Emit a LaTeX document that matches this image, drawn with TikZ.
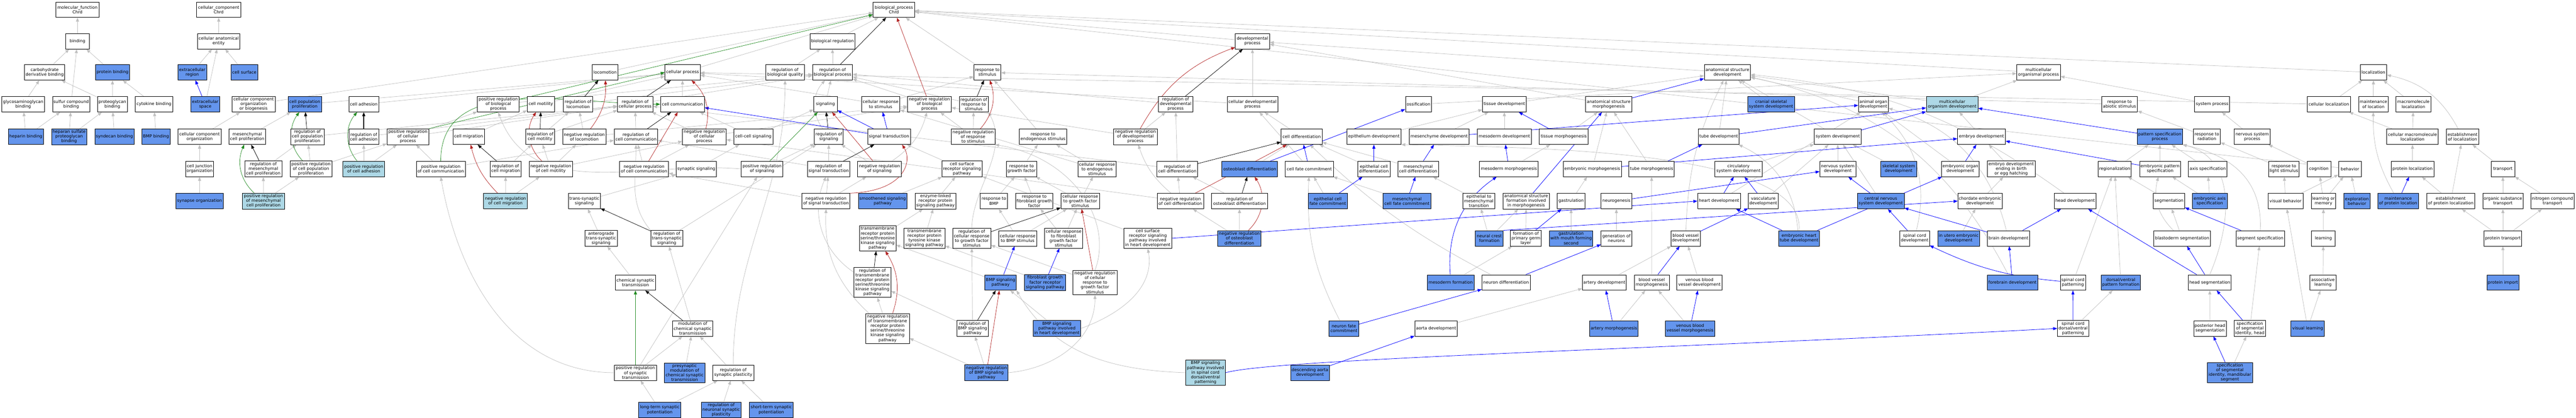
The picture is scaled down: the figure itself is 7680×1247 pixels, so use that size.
\documentclass[tikz,border=0pt]{standalone}
\usepackage{fontspec}
\setmainfont{DejaVu Sans}
\usetikzlibrary{arrows.meta}
\pgfdeclarelayer{back}
\pgfdeclarelayer{edges}
\pgfsetlayers{back,edges,main}
\definecolor{cblue}{RGB}{100,149,237}
\definecolor{lblue}{RGB}{173,216,230}
\definecolor{egray}{RGB}{192,192,192}
\definecolor{fgreen}{RGB}{34,139,34}
\definecolor{fred}{RGB}{178,34,34}
\tikzset{
 nd/.style={draw=black, line width=1.1pt, fill=white, rectangle, align=center, inner xsep=2pt, inner ysep=3.5pt, minimum height=46pt, font=\fontsize{12.5}{14}\selectfont},
 bl/.style={fill=cblue}, lb/.style={fill=lblue},
 tip/.style={-{Triangle[length=12pt,width=9pt]}},
 ge/.style={draw=egray, line width=1.1pt, tip},
 ke/.style={draw=black, line width=1.1pt, tip},
 gre/.style={draw=fgreen, line width=1.1pt, tip},
 rde/.style={draw=fred, line width=1.1pt, tip},
 ble/.style={draw=blue, line width=1.2pt, tip}
}
\newcommand\GN[5][]{\node[nd,#1,minimum width=#2pt] (#3) at (#4) {#5};}
\begin{document}
\begin{tikzpicture}[x=1pt,y=-1pt]
\begin{pgfonlayer}{back}
\path[use as bounding box, fill=white] (0,0) rectangle (7680,1247);
\end{pgfonlayer}
% R0
\GN{128}{mf}{231,29}{molecular\_function\\Chrd}
\GN{131}{cc}{652,29}{cellular\_component\\Chrd}
\GN{124}{bp}{2665,29}{biological\_process\\Chrd}
% R1
\GN{70}{bind}{231,123}{binding}
\GN{127}{cae}{652,123}{cellular anatomical\\entity}
\GN{135}{breg}{2482,123}{biological regulation}
\GN{102}{devp}{3734,123}{developmental\\process}
% R2
\GN{120}{carb}{133,216}{carbohydrate\\derivative binding}
\GN[bl]{101}{protb}{335.5,216}{protein binding}
\GN[bl]{86}{exreg}{573,216}{extracellular\\region}
\GN[bl]{79}{csurf}{728.5,216}{cell surface}
\GN{76}{loco}{1804,216}{locomotion}
\GN{105}{cellp}{2035,216}{cellular process}
\GN{115}{rbq}{2340.5,216}{regulation of\\biological quality}
\GN{119}{rbp}{2482,216}{regulation of\\biological process}
\GN{81}{rstim}{2943.5,216}{response to\\stimulus}
\GN{138}{asd}{5150,216}{anatomical structure\\development}
\GN{130}{mop}{6077.5,216}{multicellular\\organismal process}
\GN{79}{loc}{7076,216}{localization}
% R3
\GN{128}{gag}{69,311}{glycosaminoglycan\\binding}
\GN{111}{sulf}{212,311}{sulfur compound\\binding}
\GN{89}{pgb}{335,311}{proteoglycan\\binding}
\GN{111}{cytb}{459,311}{cytokine binding}
\GN[bl]{86}{exsp}{612,311}{extracellular\\space}
\GN{128}{ccob}{756,311}{cellular component\\organization\\or biogenesis}
\GN[bl]{99.5}{cpp}{908.5,311}{cell population\\proliferation}
\GN{89}{cadh}{1084.5,311}{cell adhesion}
\GN{125}{prbp}{1485.5,311}{positive regulation\\of biological\\process}
\GN{81}{cmot}{1612.5,311}{cell motility}
\GN{87}{rloc}{1723.5,311}{regulation of\\locomotion}
\GN{105}{rcp}{1893.5,311}{regulation of\\cellular process}
\GN{131}{ccomm}{2034.5,311}{cell communication}
\GN{70}{sig}{2461,311}{signaling}
\GN{115}{crs}{2625.5,311}{cellular response\\to stimulus}
\GN{130}{nrbp}{2771,311}{negative regulation\\of biological\\process}
\GN{86}{rrs}{2903,311}{regulation of\\response to\\stimulus}
\GN{101.6}{rdp}{3504.8,311}{regulation of\\developmental\\process}
\GN{151}{cdp}{3734,311}{cellular developmental\\process}
\GN{78}{ossif}{4229,311}{ossification}
\GN{130}{tisd}{4485,311}{tissue development}
\GN{137}{asm}{4796,311}{anatomical structure\\morphogenesis}
\GN[bl]{140}{csk}{5280,311}{cranial skeletal\\system development}
\GN{89}{aod}{5585,311}{animal organ\\development}
\GN[lb]{154}{mcod}{5820,311}{multicellular\\organism development}
\GN{107}{ras}{6319,311}{response to\\abiotic stimulus}
\GN{104.5}{sysp}{6595,311}{system process}
\GN{130}{cloc}{6943,311}{cellular localization}
\GN{88}{mloc}{7076,311}{maintenance\\of location}
\GN{104}{mml}{7195,311}{macromolecule\\localization}
% R4
\GN[bl]{104}{hep}{77,408}{heparin binding}
\GN[bl]{104}{hspg}{206,408}{heparan sulfate\\proteoglycan\\binding}
\GN[bl]{117}{synb}{341,408}{syndecan binding}
\GN[bl]{84}{bmpb}{465,408}{BMP binding}
\GN{128}{cco}{595,408}{cellular component\\organization}
\GN{110}{mcp}{737,408}{mesenchymal\\cell proliferation}
\GN{99}{rcpp}{916.5,408}{regulation of\\cell population\\proliferation}
\GN{89}{rcadh}{1084.5,408}{regulation of\\cell adhesion}
\GN{124.5}{prcp}{1216,408}{positive regulation\\of cellular\\process}
\GN{94}{cmig}{1397,408}{cell migration}
\GN{86.5}{rcmot}{1610,408}{regulation of\\cell motility}
\GN{129.5}{nrloc}{1742,408}{negative regulation\\of locomotion}
\GN{130}{rcc}{1896,408}{regulation of\\cell communication}
\GN{130}{nrcp}{2099.6,408}{negative regulation\\of cellular\\process}
\GN{116.5}{ccsig}{2246,408}{cell-cell signaling}
\GN{86}{rsig}{2471,408}{regulation of\\signaling}
\GN{127}{st}{2650.5,408}{signal transduction}
\GN{130}{nrrs}{2901,408}{negative regulation\\of response\\to stimulus}
\GN{141}{res}{3109.5,408}{response to\\endogenous stimulus}
\GN{130}{nrdp}{3385,408}{negative regulation\\of developmental\\process}
\GN{122}{cdiff}{3880.6,408}{cell differentiation}
\GN{162}{epd}{4096,408}{epithelium development}
\GN{179}{mesd}{4290.5,408}{mesenchyme development}
\GN{162}{modev}{4485,408}{mesoderm development}
\GN{146}{tism}{4662,408}{tissue morphogenesis}
\GN{121}{tubed}{5124,408}{tube development}
\GN{139.6}{sysd}{5479,408}{system development}
\GN{143}{embd}{5907.5,408}{embryo development}
\GN[bl]{135}{pattsp}{6439,408}{pattern specification\\process}
\GN{80.5}{rrad}{6579.3,408}{response to\\radiation}
\GN{107}{nsp}{6714.4,408}{nervous system\\process}
\GN{154}{cml}{7192.5,408}{cellular macromolecule\\localization}
\GN{96.3}{estloc}{7341.7,408}{establishment\\of localization}
% R5
\GN{84}{cjo}{595,504}{cell junction\\organization}
\GN{110}{rmcp}{785,504}{regulation of\\mesenchymal\\cell proliferation}
\GN{124.5}{prcpp}{927,504}{positive regulation\\of cell population\\proliferation}
\GN[lb]{125}{prcadh}{1084.5,504}{positive regulation\\of cell adhesion}
\GN{146}{prcc}{1314,504}{positive regulation\\of cell communication}
\GN{93}{rcmig}{1507.5,504}{regulation of\\cell migration}
\GN{129.5}{nrcmot}{1642,504}{negative regulation\\of cell motility}
\GN{146}{nrcc}{1920,504}{negative regulation\\of cell communication}
\GN{120}{synsig}{2076,504}{synaptic signaling}
\GN{124}{prsig}{2272,504}{positive regulation\\of signaling}
\GN{127}{rst}{2470.5,504}{regulation of\\signal transduction}
\GN{130}{nrsig}{2622,504}{negative regulation\\of signaling}
\GN{120}{csrsp}{2868,504}{cell surface\\receptor signaling\\pathway}
\GN{91}{rgf}{3045.5,504}{response to\\growth factor}
\GN{114}{cres}{3270.7,504}{cellular response\\to endogenous\\stimulus}
\GN{121.6}{rcd}{3510,504}{regulation of\\cell differentiation}
\GN[bl]{166}{obd}{3726,504}{osteoblast differentiation}
\GN{143}{cfc}{3903.5,504}{cell fate commitment}
\GN{96}{epcd}{4096,504}{epithelial cell\\differentiation}
\GN{122}{mescd}{4228,504}{mesenchymal\\cell differentiation}
\GN{175}{mom}{4498.5,504}{mesoderm morphogenesis}
\GN{173.5}{embm}{4747,504}{embryonic morphogenesis}
\GN{135}{tubem}{4924,504}{tube morphogenesis}
\GN{141}{circ}{5183,504}{circulatory\\system development}
\GN{107}{nsd}{5479,504}{nervous system\\development}
\GN[bl]{107}{skel}{5660.6,504}{skeletal system\\development}
\GN{113}{eod}{5844.5,504}{embryonic organ\\development}
\GN{142}{edeb}{5996,504}{embryo development\\ending in birth\\or egg hatching}
\GN{99}{regz}{6304.6,504}{regionalization}
\GN{122}{eps}{6440,504}{embryonic pattern\\specification}
\GN{115}{axis}{6582,504}{axis specification}
\GN{91.5}{rls}{6809,504}{response to\\light stimulus}
\GN{71}{cogn}{6913.5,504}{cognition}
\GN{68}{behav}{7006,504}{behavior}
\GN{127}{ploc}{7192.5,504}{protein localization}
\GN{70}{transp}{7462,504}{transport}
% R6
\GN[bl]{141}{synorg}{595,600}{synapse organization}
\GN[lb]{125}{prmcp}{785.5,600}{positive regulation\\of mesenchymal\\cell proliferation}
\GN[lb]{130}{nrcmig}{1507,600}{negative regulation\\of cell migration}
\GN{96}{tss}{1742,600}{trans-synaptic\\signaling}
\GN{143}{nrst}{2462.5,600}{negative regulation\\of signal transduction}
\GN[bl]{145}{smo}{2631.5,600}{smoothened signaling\\pathway}
\GN{122}{elrp}{2789,600}{enzyme-linked\\receptor protein\\signaling pathway}
\GN{81}{rbmp}{2963,600}{response to\\BMP}
\GN{111}{rfgf}{3083.5,600}{response to\\fibroblast growth\\factor}
\GN{115}{crgf}{3220.5,600}{cellular response\\to growth factor\\stimulus}
\GN{138}{nrcd}{3519,600}{negative regulation\\of cell differentiation}
\GN{167}{rob}{3695.5,600}{regulation of\\osteoblast differentiation}
\GN[bl]{117}{epcfc}{3958.5,600}{epithelial cell\\fate commitment}
\GN[bl]{142.5}{mescfc}{4194.5,600}{mesenchymal\\cell fate commitment}
\GN{96}{emt}{4409,600}{epithelial to\\mesenchymal\\transition}
\GN{138}{asfm}{4550,600}{anatomical structure\\formation involved\\in morphogenesis}
\GN{82}{gast}{4684,600}{gastrulation}
\GN{91}{neurog}{4819,600}{neurogenesis}
\GN{128}{heartd}{5125,600}{heart development}
\GN{89}{vascd}{5257,600}{vasculature\\development}
\GN[bl]{140}{cnsd}{5607,600}{central nervous\\system development}
\GN{132}{cedev}{5903,600}{chordate embryonic\\development}
\GN{124.5}{headd}{6186.7,600}{head development}
\GN{94}{seg}{6466.5,600}{segmentation}
\GN[bl]{104}{eas}{6588,600}{embryonic axis\\specification}
\GN{104}{visb}{6814,600}{visual behavior}
\GN{73.5}{lom}{6927,600}{learning or\\memory}
\GN[bl]{78}{expb}{7026.7,600}{exploration\\behavior}
\GN[bl]{122}{mpl}{7149.6,600}{maintenance\\of protein location}
\GN{143.7}{epl}{7306.5,600}{establishment\\of protein localization}
\GN{120}{ost}{7462,600}{organic substance\\transport}
\GN{128.6}{nct}{7610,600}{nitrogen compound\\transport}
% R7
\GN{96}{ats}{1792,711}{anterograde\\trans-synaptic\\signaling}
\GN{96}{rtss}{1988,711}{regulation of\\trans-synaptic\\signaling}
\GN{109}{tmss}{2616.5,711}{transmembrane\\receptor protein\\serine/threonine\\kinase signaling\\pathway}
\GN{122}{tmtk}{2756,711}{transmembrane\\receptor protein\\tyrosine kinase\\signaling pathway}
\GN{114}{rcrgf}{2897,711}{regulation of\\cellular response\\to growth factor\\stimulus}
\GN{114}{crbmp}{3034,711}{cellular response\\to BMP stimulus}
\GN{114.5}{crfgf}{3171,711}{cellular response\\to fibroblast\\growth factor\\stimulus}
\GN{142}{csrsph}{3422,711}{cell surface\\receptor signaling\\pathway involved\\in heart development}
\GN[bl]{129.5}{nrob}{3695,711}{negative regulation\\of osteoblast\\differentiation}
\GN[bl]{83}{ncf}{4440,711}{neural crest\\formation}
\GN{92}{fpgl}{4549,711}{formation of\\primary germ\\layer}
\GN[bl]{130}{gmfs}{4684,711}{gastrulation\\with mouth forming\\second}
\GN{91}{genn}{4819,711}{generation of\\neurons}
\GN{89}{bvd}{5025.5,711}{blood vessel\\development}
\GN[bl]{122}{ehtd}{5363.5,711}{embryonic heart\\tube development}
\GN{88.6}{scd}{5708,711}{spinal cord\\development}
\GN[bl]{125}{iued}{5839.4,711}{in utero embryonic\\development}
\GN{125}{braind}{5988,711}{brain development}
\GN{169.4}{bseg}{6505.6,711}{blastoderm segmentation}
\GN{145}{segsp}{6738.6,711}{segment specification}
\GN{70.6}{learn}{6926.7,711}{learning}
\GN{112}{ptr}{7462,711}{protein transport}
% R8
\GN{121}{cst}{1894.5,843}{chemical synaptic\\transmission}
\GN{110}{rtmss}{2601,843}{regulation of\\transmembrane\\receptor protein\\serine/threonine\\kinase signaling\\pathway}
\GN[bl]{94}{bmpsp}{2983,843}{BMP signaling\\pathway}
\GN[bl]{122}{fgfr}{3115.7,843}{fibroblast growth\\factor receptor\\signaling pathway}
\GN{131}{nrcrgf}{3264.5,843}{negative regulation\\of cellular\\response to\\growth factor\\stimulus}
\GN[bl]{140}{mof}{4325,843}{mesoderm formation}
\GN{144}{neud}{4490,843}{neuron differentiation}
\GN{131}{artd}{4783,843}{artery development}
\GN{105}{bvm}{4924.5,843}{blood vessel\\morphogenesis}
\GN{135}{vbvd}{5066.5,843}{venous blood\\vessel development}
\GN[bl]{150}{fbd}{6000,843}{forebrain development}
\GN{75.5}{scp}{6180,843}{spinal cord\\patterning}
\GN[bl]{116.7}{dvpf}{6322.8,843}{dorsal/ventral\\pattern formation}
\GN{128}{hseg}{6588,843}{head segmentation}
\GN{78}{alearn}{6925.5,843}{associative\\learning}
\GN[bl]{96}{pimp}{7462,843}{protein import}
% R9
\GN{120.5}{mcst}{2065,980}{modulation of\\chemical synaptic\\transmission}
\GN{130}{nrtmss}{2646,980}{negative regulation\\of transmembrane\\receptor protein\\serine/threonine\\kinase signaling\\pathway}
\GN{93}{rbmpsp}{2899.5,980}{regulation of\\BMP signaling\\pathway}
\GN[bl]{142}{bmph}{3151,980}{BMP signaling\\pathway involved\\in heart development}
\GN[bl]{88}{nfc}{4006.5,980}{neuron fate\\commitment}
\GN{127}{aortad}{4281.5,980}{aorta development}
\GN[bl]{145}{artm}{4811.6,980}{artery morphogenesis}
\GN[bl]{148}{vbvm}{5038.6,980}{venous blood\\vessel morphogenesis}
\GN{93.5}{scdv}{6180.6,980}{spinal cord\\dorsal/ventral\\patterning}
\GN{97}{phs}{6588.5,980}{posterior head\\segmentation}
\GN{93.5}{ssih}{6707.5,980}{specification\\of segmental\\identity, head}
\GN[bl]{99.6}{vlearn}{6880,980}{visual learning}
% R10
\GN{125}{prst}{1894.5,1112}{positive regulation\\of synaptic\\transmission}
\GN[bl]{120.5}{pmcst}{2041,1112}{presynaptic\\modulation of\\chemical synaptic\\transmission}
\GN{122}{rsp}{2186,1112}{regulation of\\synaptic plasticity}
\GN[bl]{129}{nrbmp}{2941,1112}{negative regulation\\of BMP signaling\\pathway}
\GN[lb]{119.6}{bmpsc}{3594,1112}{BMP signaling\\pathway involved\\in spinal cord\\dorsal/ventral\\patterning}
\GN[bl]{115}{dad}{3905.4,1112}{descending aorta\\development}
\GN[bl]{134.7}{ssim}{6648,1112}{specification\\of segmental\\identity, mandibular\\segment}
% R11
\GN[bl]{126}{ltp}{1967,1223}{long-term synaptic\\potentiation}
\GN[bl]{119}{rnsp}{2150,1223}{regulation of\\neuronal synaptic\\plasticity}
\GN[bl]{131}{stp}{2299.5,1223}{short-term synaptic\\potentiation}

\begin{pgfonlayer}{edges}
% grey straight edges
\foreach \a/\b in {bind/mf, carb/bind, sulf/bind, protb/bind, gag/carb, pgb/carb, pgb/protb, cytb/protb, hep/gag, hep/sulf, hspg/sulf, hspg/pgb, synb/pgb, bmpb/cytb,
 cae/cc, exreg/cae, exsp/cae, csurf/cae,
 cco/ccob, cjo/cco, synorg/cjo, ccob/bp, cpp/cellp, cadh/cellp, mcp/cpp, rmcp/rcpp, prmcp/rmcp, prmcp/prcpp, rcpp/rcp, prcpp/rcpp, prcpp/prcp, rcadh/rcp, prcadh/rcadh, prcadh/prcp, prcp/prbp, prcp/rcp, prcc/rcc, prcc/prcp, prbp/rbp, loco/bp, rloc/rbp, nrloc/rloc, nrloc/nrbp, cmot/cellp, cmig/cmot, rcmot/rloc, rcmot/rcp, nrcmot/rcmot, nrcmot/nrloc, nrcmot/nrcp, rcmig/rcmot, nrcmig/rcmig, nrcmig/nrcmot, rcp/rbp, rcc/rcp, nrcc/rcc, nrcc/nrcp, ccomm/cellp, nrcp/nrbp, nrcp/rcp, ccsig/ccomm, ccsig/sig, synsig/ccsig, tss/synsig, ats/tss, cst/ats, rtss/rsig, mcst/rtss, pmcst/mcst, rsp/mcst, rnsp/rsp, stp/rsp, ltp/prst, ltp/rsp, prst/mcst, prst/prsig,
 breg/bp, rbp/breg, rbq/breg, cellp/bp, sig/rbp, crs/rstim, crs/cellp, rst/rsig, rst/rcc, nrst/rst, nrst/nrsig, nrst/nrcc, nrsig/rsig, smo/csrsp, csrsp/st, elrp/csrsp, tmss/elrp, tmtk/elrp, nrtmss/rtmss, bmpsp/tmss, fgfr/tmtk, rbmpsp/rtmss, rbmpsp/rcrgf, nrbmp/rbmpsp, nrbmp/nrtmss, bmph/bmpsp, crbmp/rbmp, crbmp/crgf, crfgf/rfgf, crfgf/crgf, rbmp/rgf, rfgf/rgf, crgf/rgf, crgf/cres, rgf/res, cres/res, cres/crs, res/rstim, rrs/rbp, nrrs/rrs, nrrs/nrbp, nrbp/rbp, rstim/bp, nrcrgf/rcrgf, csrsph/csrsp, prsig/rsig,
 devp/bp, rdp/rbp, cdp/devp, cdp/cellp, nrdp/rdp, nrdp/nrbp, rcd/rdp, rcd/rcp, nrcd/rcd, nrcd/nrcp, obd/cdiff, rob/rcd, nrob/rob, nrob/nrcd, cdiff/cdp, cfc/cdp, epcd/cdiff, mescd/cdiff, epcfc/cfc, mescfc/cfc, emt/mescd, ncf/emt, ncf/asfm, fpgl/asfm, gast/embm, gmfs/gast, mof/fpgl, mom/tism, modev/tisd, epd/tisd, mesd/tisd, tism/asm, asm/devp, embm/asm, tubem/asm, tisd/asd, tubed/asd, genn/neurog, aortad/artd, artd/bvd, bvm/tubem, vbvd/bvd, artm/bvm, vbvm/bvm, heartd/aod, vascd/sysd, circ/sysd, csk/asd, aod/asd, sysd/asd, nsd/sysd, skel/sysd, cnsd/sysd, mcod/mop, mcod/asd, embd/mcod, eod/aod, edeb/embd, cedev/edeb, iued/cedev, scp/regz, scdv/dvpf, dvpf/regz, regz/pattsp, eps/pattsp, axis/pattsp, eas/axis, eas/eps, seg/regz, bseg/seg, phs/hseg, ssih/segsp, ssim/ssih, mop/bp, ras/rstim, rrad/ras, rls/rrad, sysp/mop, nsp/sysp, cogn/nsp, behav/bp, visb/rls, visb/behav, lom/cogn, lom/behav, expb/behav, learn/lom, alearn/learn, vlearn/alearn, vlearn/visb, ossif/mop, loc/bp, cloc/loc, cloc/cellp, mloc/loc, mml/loc, cml/mml, cml/cloc, ploc/cml, transp/estloc, epl/ploc, epl/estloc, ost/transp, nct/transp, ptr/epl, ptr/ost, ptr/nct, pimp/ptr, asd/devp}
 \draw[ge] (\a) -- (\b);
% grey curved edges
\draw[ge] (rsp.north) to[out=90,in=-90] (rbq.south);
\draw[ge] (prst.west) to[out=180,in=-80] (prcc.south);
\draw[ge] (rtss.north west) to[out=130,in=-90] (rcc.south);
\draw[ge] (rtmss) to[bend left=40] (rst);
\draw[ge] (nrtmss) to[bend left=25] (nrst);
\draw[ge] (nrbmp.east) to[out=5,in=-90] (nrcrgf.south);
\draw[ge] (bmph.east) to[out=20,in=-80] (csrsph.south);
\draw[ge] (bmpsc.west) to[out=178,in=-60] (bmpsp.south east);
\draw[ge] (rcrgf.north) .. controls (2900,560) and (3010,450) .. (rrs.south east);
\draw[ge] (nrcrgf.north) .. controls (3320,660) and (3200,470) .. (nrrs.south east);
\draw[ge] (nrcd) to[bend left=15] (nrdp);
\draw[ge] (neud) to[bend left=8] (cdiff);
\draw[ge] (nfc) to[bend left=15] (cfc);
\draw[ge] (bvd) to[bend left=12] (asd);
\draw[ge] (scd) to[bend right=30] (aod);
\draw[ge] (braind) to[bend right=30] (aod);
\draw[ge] (fbd) to[bend right=25] (asd);
\draw[ge] (headd) to[bend right=15] (asd);
\draw[ge] (ehtd) to[bend right=30] (tubed);
\draw[ge] (ehtd.north) .. controls (5385,450) and (4600,440) .. (epd.south east);
\draw[ge] (hseg.north) .. controls (6660,650) and (6660,470) .. (pattsp.south east);
\draw[ge] (segsp.north) .. controls (6745,560) and (6680,470) .. (pattsp.south east);
\draw[ge] (bseg) to[bend left=30] (eps);
\draw[ge] (estloc) to[bend right=25] (loc);
\draw[ge] (mpl) to[bend left=15] (mloc);
\draw[ge] (rsig) to[bend left=40] (rbp);
\draw[ge] (prsig.west) to[out=175,in=-70] (prbp.south);
\draw[ge] (nrsig) to[bend right=20] (nrbp);
% black (regulates)
\foreach \a/\b in {rmcp/mcp, rcpp/cpp, rloc/loco, rcmot/cmot, rcmig/cmig, rcp/cellp, rcc/ccomm, rtss/tss, mcst/cst, rbp/bp, rst/st, rsig/sig, rrs/rstim, rtmss/tmss, rbmpsp/bmpsp, rcrgf/crgf, rdp/devp, rcd/cdiff, rob/obd}
 \draw[ke] (\a) -- (\b);
\draw[ke,line width=2pt] (rcadh) -- (cadh);
% blue (part of)
\foreach \a/\b in {exsp/exreg, st/crs, st/sig, st/ccomm, bmpsp/crbmp, fgfr/crfgf, obd/ossif, cfc/cdiff, epcd/epd, mescd/mesd, epcfc/epcd, mescfc/mescd, asfm/asm, fpgl/gast, mom/modev, mesd/aod, tism/tisd, asm/asd, embm/embd, tubem/tubed, tubed/mcod, neurog/nsd, neud/genn, nfc/neud, dad/aortad, bvm/bvd, artm/artd, vbvm/vbvd, bvd/vascd, heartd/circ, vascd/circ, ehtd/heartd, ehtd/eod, sysd/mcod, cnsd/nsd, scd/cnsd, eod/embd, braind/headd, braind/cnsd, fbd/braind, scdv/scp, pattsp/mcod, eps/embd, segsp/seg, hseg/bseg, hseg/headd, ssih/hseg, ssim/phs, mpl/ploc}
 \draw[ble] (\a) -- (\b);
\draw[ble] (csrsph.east) -- (heartd.west);
\draw[ble] (ncf.north east) -- (cedev.west);
\draw[ble] (bmpsc.east) .. controls (3800,1070) and (5000,1040) .. (scdv.west);
\draw[ble] (mof) to[bend left=30] (mom);
\draw[ble] (scp) to[bend left=10] (scd);
% green (positively regulates)
\draw[gre] (prmcp) to[bend left=35] (mcp);
\draw[gre] (prcpp) to[bend left=40] (cpp);
\draw[gre] (prcadh) to[bend left=40] (cadh);
\draw[gre] (prcc.north) to[out=90,in=180] (ccomm.west);
\draw[gre] (prcp.north east) -- (cellp.west);
\draw[gre] (prbp) -- (bp);
\draw[gre] (prsig) -- (sig);
\draw[gre,line width=2.2pt] (prst) -- (cst);
% red (negatively regulates)
\draw[rde] (nrloc) to[bend right=20] (loco);
\draw[rde] (nrcmot) to[bend left=40] (cmot);
\draw[rde] (nrcmig) to[bend left=15] (cmig);
\draw[rde] (nrcc) -- (ccomm);
\draw[rde] (nrcp) to[bend right=30] (cellp);
\draw[rde] (nrbp) -- (bp);
\draw[rde] (nrsig) -- (sig);
\draw[rde] (nrst.north east) .. controls (2700,570) and (2720,480) .. ([xshift=-25pt]st.south east);
\draw[rde] (nrrs) to[bend right=30] (rstim);
\draw[rde] (nrtmss) to[bend right=25] (tmss);
\draw[rde] (nrbmp) -- (bmpsp);
\draw[rde] (nrcrgf) -- (crgf);
\draw[rde] (nrdp) to[bend left=20] (devp);
\draw[rde] (nrcd) -- (cdiff);
\draw[rde] (nrob) to[bend right=40] (obd);
\end{pgfonlayer}
\end{tikzpicture}
\end{document}
